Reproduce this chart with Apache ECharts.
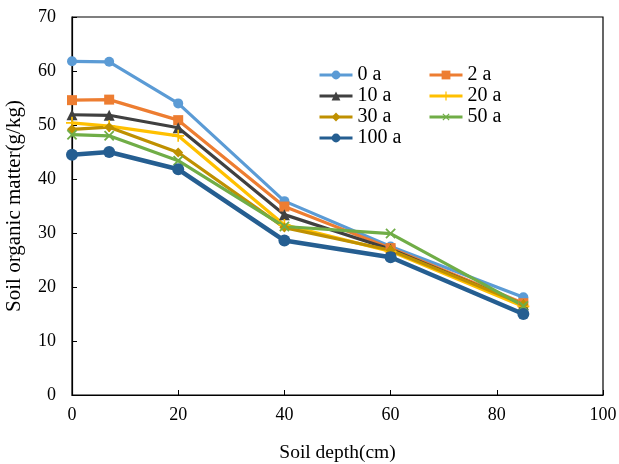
<!DOCTYPE html>
<html>
<head>
<meta charset="utf-8">
<script src="https://cdn.jsdelivr.net/npm/echarts@6/dist/echarts.min.js"></script>
<style>
  html, body { margin: 0; padding: 0; background: #fff; }
  #chart { width: 619px; height: 464px; }
</style>
</head>
<body>
<div id="chart"></div>
<script>
// soil depth (cm) for each sample point
const depths = [0, 7, 20, 40, 60, 85];

const seriesNames = ["0 a", "2 a", "10 a", "20 a", "30 a", "50 a", "100 a"];
const som0 = [61.8, 61.7, 54.0, 35.9, 27.5, 18.1];
const som2 = [54.6, 54.7, 50.9, 34.9, 27.2, 17.0];
const som10 = [51.9, 51.8, 49.5, 33.4, 27.0, 16.7];
const som20 = [50.4, 49.8, 48.0, 31.5, 26.6, 16.4];
const som30 = [49.2, 49.6, 44.9, 31.0, 26.8, 16.8];
const som50 = [48.2, 48.0, 43.4, 31.2, 29.9, 16.5];
const som100 = [44.5, 45.0, 41.8, 28.6, 25.5, 15.0];

const xTicks = [0, 20, 40, 60, 80, 100];
const yTicks = [0, 10, 20, 30, 40, 50, 60, 70];

const plus = "path://M4.3,0H5.7V4.3H10V5.7H5.7V10H4.3V5.7H0V4.3H4.3Z";

const styles = [
  { color: "#5B9BD5", symbol: "circle", size: 10, width: 3.2 },
  { color: "#ED7D31", symbol: "rect", size: 10, width: 3.2 },
  { color: "#404040", symbol: "triangle", size: 11, width: 3.2 },
  { color: "#FFC000", symbol: plus, size: 12, width: 3.2 },
  { color: "#BF9000", symbol: "diamond", size: 10, width: 3.2 },
  { color: "#70AD47", symbol: plus, size: 13, width: 3.2, rotate: 45 },
  { color: "#255E91", symbol: "circle", size: 12, width: 4.5 }
];
const allValues = [som0, som2, som10, som20, som30, som50, som100];

const chart = echarts.init(document.getElementById("chart"));
const font = "'Liberation Serif', 'Times New Roman', serif";

const legendText = { fontFamily: font, fontSize: 20, color: "#000" };

chart.setOption({
  animation: false,
  textStyle: { fontFamily: font },
  grid: {
    left: 72, right: 16, top: 17, bottom: 69,
    outerBoundsMode: "none",
    show: true, borderColor: "#000", borderWidth: 1.2
  },
  legend: [
    {
      data: ["0 a", "10 a", "30 a", "100 a"],
      orient: "vertical", left: 318, top: 65, padding: 0, itemGap: 1,
      itemWidth: 33, itemHeight: 11, textStyle: legendText,
      lineStyle: { width: 3 }
    },
    {
      data: ["2 a", "20 a", "50 a"],
      orient: "vertical", left: 428, top: 65, padding: 0, itemGap: 1,
      itemWidth: 33, itemHeight: 11, textStyle: legendText,
      lineStyle: { width: 3 }
    }
  ],
  xAxis: {
    type: "value", min: 0, max: 100, interval: 20,
    name: "Soil depth(cm)", nameLocation: "middle", nameGap: 48,
    nameTextStyle: { fontFamily: font, fontSize: 19.5, color: "#000" },
    axisLine: { lineStyle: { color: "#000", width: 1.2 } },
    axisTick: { inside: true, length: 5, lineStyle: { color: "#000" } },
    axisLabel: { fontFamily: font, fontSize: 18, color: "#000", margin: 11 },
    splitLine: { show: false }
  },
  yAxis: {
    type: "value", min: 0, max: 70, interval: 10,
    name: "Soil organic matter(g/kg)", nameLocation: "middle", nameGap: 47,
    nameTextStyle: { fontFamily: font, fontSize: 21, color: "#000" },
    axisLine: { show: true, lineStyle: { color: "#000", width: 1.2 } },
    axisTick: { show: true, inside: true, length: 5, lineStyle: { color: "#000" } },
    axisLabel: { fontFamily: font, fontSize: 18, color: "#000", margin: 16 },
    splitLine: { show: false }
  },
  series: seriesNames.map((name, i) => ({
    name: name,
    type: "line",
    data: depths.map((d, j) => [d, allValues[i][j]]),
    symbol: styles[i].symbol,
    symbolSize: styles[i].size,
    symbolRotate: styles[i].rotate || 0,
    showAllSymbol: true,
    z: i === 6 ? 3 : 2,
    lineStyle: { color: styles[i].color, width: styles[i].width },
    itemStyle: { color: styles[i].color, borderWidth: 0 }
  }))
});
</script>
</body>
</html>
